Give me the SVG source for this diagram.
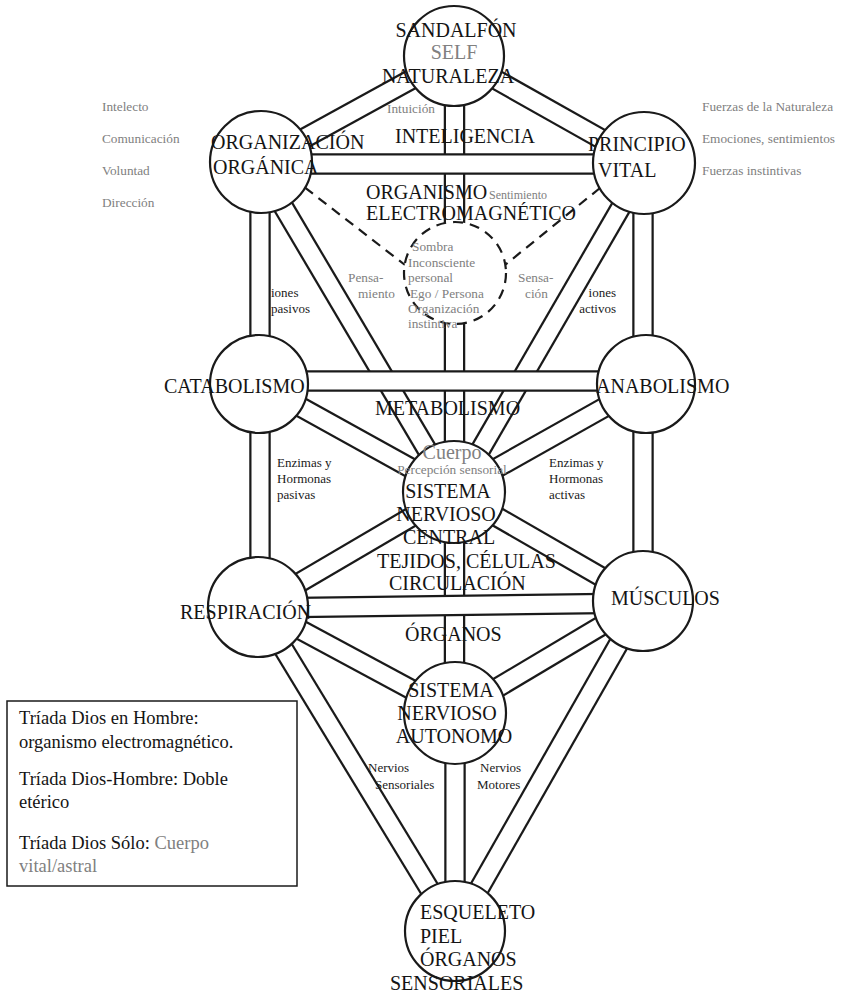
<svg xmlns="http://www.w3.org/2000/svg" width="841" height="996" viewBox="0 0 841 996">
<style>
.o{stroke:#1a1a1a;stroke-width:21.5;stroke-linecap:butt;fill:none}
.i{stroke:#fff;stroke-width:17;stroke-linecap:butt;fill:none}
.n{fill:#fff;stroke:#1a1a1a;stroke-width:2.2}
.d{fill:#fff;stroke:#1a1a1a;stroke-width:2.2;stroke-dasharray:10 7}
.dl{stroke:#1a1a1a;stroke-width:2.2;stroke-dasharray:10 7;fill:none}
text{font-family:"Liberation Serif","Times New Roman",serif}
.L{font-size:20px;fill:#141414}
.G{font-size:20px;fill:#808080}
.s{font-size:13px;fill:#1a1a1a}
.g{font-size:13.3px;fill:#808080}
.b{font-size:18.5px;fill:#141414}
.gr{fill:#808080}
.m{text-anchor:middle}
.e{text-anchor:end}
</style>
<rect width="841" height="996" fill="#fff"/>
<defs>
<line id="p1" x1="454" y1="56" x2="261" y2="162"/>
<line id="p2" x1="454" y1="56" x2="644" y2="163"/>
<line id="p3" x1="454.5" y1="56" x2="454.5" y2="273"/>
<line id="p4" x1="260" y1="162" x2="260" y2="384"/>
<line id="p5" x1="643" y1="163" x2="643" y2="384"/>
<line id="p6" x1="258" y1="164" x2="452" y2="492"/>
<line id="p7" x1="646" y1="164" x2="456" y2="492"/>
<line id="p8" x1="454.5" y1="273" x2="454.5" y2="492"/>
<line id="p9" x1="259" y1="384" x2="454" y2="492"/>
<line id="p10" x1="646" y1="384" x2="454" y2="492"/>
<line id="p11" x1="260" y1="384" x2="260" y2="607"/>
<line id="p12" x1="643" y1="384" x2="643" y2="601"/>
<line id="p13" x1="454" y1="492" x2="258" y2="607"/>
<line id="p14" x1="454" y1="492" x2="643" y2="601"/>
<line id="p15" x1="454.5" y1="492" x2="454.5" y2="713"/>
<line id="p16" x1="258" y1="607" x2="455" y2="713"/>
<line id="p17" x1="643" y1="601" x2="455" y2="713"/>
<line id="p18" x1="258" y1="607" x2="455" y2="931"/>
<line id="p19" x1="643" y1="601" x2="455" y2="931"/>
<line id="p20" x1="455" y1="713" x2="455" y2="931"/>
<line id="b1" x1="261" y1="164" x2="644" y2="164"/>
<line id="b2" x1="259" y1="381" x2="646" y2="381"/>
<line id="b3" x1="258" y1="608" x2="643" y2="603"/>
</defs>
<g id="connectors">
<use href="#p1" class="o"/><use href="#p1" class="i"/>
<use href="#p2" class="o"/><use href="#p2" class="i"/>
<use href="#p3" class="o"/><use href="#p3" class="i"/>
<use href="#p4" class="o"/><use href="#p4" class="i"/>
<use href="#p5" class="o"/><use href="#p5" class="i"/>
<use href="#p6" class="o"/><use href="#p6" class="i"/>
<use href="#p7" class="o"/><use href="#p7" class="i"/>
<use href="#p8" class="o"/><use href="#p8" class="i"/>
<use href="#p9" class="o"/><use href="#p9" class="i"/>
<use href="#p10" class="o"/><use href="#p10" class="i"/>
<use href="#p11" class="o"/><use href="#p11" class="i"/>
<use href="#p12" class="o"/><use href="#p12" class="i"/>
<use href="#p13" class="o"/><use href="#p13" class="i"/>
<use href="#p14" class="o"/><use href="#p14" class="i"/>
<use href="#p15" class="o"/><use href="#p15" class="i"/>
<use href="#p16" class="o"/><use href="#p16" class="i"/>
<use href="#p17" class="o"/><use href="#p17" class="i"/>
<use href="#p18" class="o"/><use href="#p18" class="i"/>
<use href="#p19" class="o"/><use href="#p19" class="i"/>
<use href="#p20" class="o"/><use href="#p20" class="i"/>
<use href="#b1" class="o"/><use href="#b1" class="i"/>
<use href="#b2" class="o"/><use href="#b2" class="i"/>
<use href="#b3" class="o"/><use href="#b3" class="i"/>
<line class="dl" x1="305" y1="187.6" x2="405" y2="265"/>
<line class="dl" x1="600" y1="188" x2="505" y2="265"/>
</g>
<g id="sandalfon">
<circle class="n" cx="454" cy="56" r="50"/>
<text class="L m" x="456" y="37">SANDALFÓN</text>
<text class="G m" x="454" y="59">SELF</text>
<text class="L m" x="448" y="83">NATURALEZA</text>
</g>
<g id="organizacion">
<circle class="n" cx="261" cy="162" r="51"/>
<text class="L" x="211" y="149">ORGANIZACIÓN</text>
<text class="L" x="213" y="174">ORGÁNICA</text>
</g>
<g id="principio">
<circle class="n" cx="644" cy="163" r="51"/>
<text class="L" x="588" y="151">PRINCIPIO</text>
<text class="L" x="598" y="177">VITAL</text>
</g>
<g id="sombra">
<circle class="d" cx="455" cy="273" r="51"/>
<text class="g" x="412" y="251">Sombra</text>
<text class="g" x="408" y="267">Inconsciente</text>
<text class="g" x="408" y="282">personal</text>
<text class="g" x="410" y="298">Ego / Persona</text>
<text class="g" x="408" y="313">Organización</text>
<text class="g" x="408" y="328">instintiva</text>
</g>
<g id="catabolismo">
<circle class="n" cx="259" cy="384" r="49"/>
<text class="L" x="164" y="393">CATABOLISMO</text>
</g>
<g id="anabolismo">
<circle class="n" cx="646" cy="384" r="49"/>
<text class="L" x="596" y="393">ANABOLISMO</text>
</g>
<g id="snc">
<circle class="n" cx="454" cy="492" r="51"/>
<text class="G m" x="452" y="459">Cuerpo</text>
<text class="g m" x="452" y="474">Percepción sensorial</text>
<text class="L m" x="448" y="498">SISTEMA</text>
<text class="L m" x="446" y="521">NERVIOSO</text>
<text class="L m" x="449" y="544">CENTRAL</text>
</g>
<g id="respiracion">
<circle class="n" cx="258" cy="607" r="50"/>
<text class="L" x="180" y="619">RESPIRACIÓN</text>
</g>
<g id="musculos">
<circle class="n" cx="643" cy="601" r="50"/>
<text class="L" x="611" y="605">MÚSCULOS</text>
</g>
<g id="sna">
<circle class="n" cx="455" cy="713" r="51"/>
<text class="L m" x="451" y="697">SISTEMA</text>
<text class="L m" x="447" y="720">NERVIOSO</text>
<text class="L m" x="454" y="743">AUTONOMO</text>
</g>
<g id="esqueleto">
<circle class="n" cx="455" cy="931" r="50"/>
<text class="L" x="420" y="919">ESQUELETO</text>
<text class="L" x="420" y="943">PIEL</text>
<text class="L" x="420" y="966">ÓRGANOS</text>
<text class="L" x="390" y="990">SENSORIALES</text>
</g>
<g id="path-labels">
<text class="g" x="387" y="113">Intuición</text>
<text class="L m" x="465" y="143">INTELIGENCIA</text>
<text class="L" x="366" y="199">ORGANISMO</text>
<text class="g" x="489" y="199" style="font-size:12px">Sentimiento</text>
<text class="L" x="366" y="220">ELECTROMAGNÉTICO</text>
<text class="g" x="348" y="282">Pensa-</text>
<text class="g" x="358" y="298">miento</text>
<text class="g" x="518" y="282">Sensa-</text>
<text class="g" x="525" y="298">ción</text>
<text class="s" x="271" y="297">iones</text>
<text class="s" x="271" y="313">pasivos</text>
<text class="s e" x="616" y="297">iones</text>
<text class="s e" x="616" y="313">activos</text>
<text class="L" x="375" y="415">METABOLISMO</text>
<text class="s" x="277" y="467">Enzimas y</text>
<text class="s" x="277" y="483">Hormonas</text>
<text class="s" x="277" y="499">pasivas</text>
<text class="s" x="549" y="467">Enzimas y</text>
<text class="s" x="549" y="483">Hormonas</text>
<text class="s" x="549" y="499">activas</text>
<text class="L" x="377" y="568">TEJIDOS, CÉLULAS</text>
<text class="L" x="389" y="590">CIRCULACIÓN</text>
<text class="L" x="405" y="641">ÓRGANOS</text>
<text class="s" x="368" y="772">Nervios</text>
<text class="s" x="375" y="789">Sensoriales</text>
<text class="s" x="480" y="772">Nervios</text>
<text class="s" x="477" y="789">Motores</text>
</g>
<g id="left-labels">
<text class="g" x="102" y="111">Intelecto</text>
<text class="g" x="102" y="143">Comunicación</text>
<text class="g" x="102" y="175">Voluntad</text>
<text class="g" x="102" y="207">Dirección</text>
</g>
<g id="right-labels">
<text class="g" x="702" y="111">Fuerzas de la Naturaleza</text>
<text class="g" x="702" y="143">Emociones, sentimientos</text>
<text class="g" x="702" y="175">Fuerzas instintivas</text>
</g>
<g id="legend">
<rect x="7" y="701" width="290" height="185" fill="#fff" stroke="#1a1a1a" stroke-width="1.5"/>
<text class="b" x="19" y="724">Tríada Dios en Hombre:</text>
<text class="b" x="19" y="748">organismo electromagnético.</text>
<text class="b" x="19" y="785">Tríada Dios-Hombre: Doble</text>
<text class="b" x="19" y="808">etérico</text>
<text class="b" x="19" y="849">Tríada Dios Sólo: <tspan class="gr">Cuerpo</tspan></text>
<text class="b gr" x="19" y="872">vital/astral</text>
</g>
</svg>
